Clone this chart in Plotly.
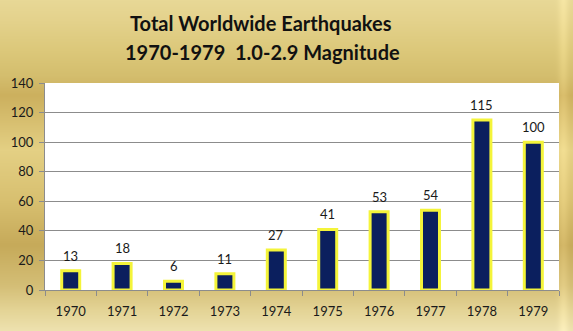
import base64, struct, zlib
import numpy as np
import plotly.graph_objects as go

# ---- data ----
years = ["1970", "1971", "1972", "1973", "1974", "1975", "1976", "1977", "1978", "1979"]
counts = [13, 18, 6, 11, 27, 41, 53, 54, 115, 100]
y_ticks = [0, 20, 40, 60, 80, 100, 120, 140]
title_line1 = "Total Worldwide Earthquakes"
title_line2 = "1970-1979  1.0-2.9 Magnitude"

W, H = 573, 331
L, R, T, B = 45, 14, 83, 41
pw, ph = W - L - R, H - T - B

# ---- gold gradient background (PNG built in memory) ----
def gold_png():
    ys = np.arange(H)
    ky = [0, 20, 50, 75, 95, 150, 200, 245, 285, 310, 331]
    kr = [232, 228, 220, 212, 204, 228, 216, 198, 212, 228, 238]
    kg = [216, 210, 200, 190, 176, 208, 192, 170, 190, 212, 226]
    kb = [150, 140, 122, 110, 94, 132, 112, 90, 118, 150, 176]
    col = np.stack([np.interp(ys, ky, k) for k in (kr, kg, kb)], axis=1)
    img = np.repeat(col[:, None, :], W, axis=1)
    xs = np.arange(W)
    streak = 14 * np.exp(-((xs - 563) / 5.0) ** 2)
    img = img + streak[None, :, None]
    img = np.clip(img, 0, 255).astype(np.uint8)
    img[T:H - B + 1, L:W - R] = 255  # white plot area
    raw = b"".join(b"\x00" + img[i].tobytes() for i in range(H))
    def chunk(tag, data):
        c = struct.pack(">I", len(data)) + tag + data
        return c + struct.pack(">I", zlib.crc32(tag + data) & 0xFFFFFFFF)
    png = b"\x89PNG\r\n\x1a\n" + chunk(b"IHDR", struct.pack(">IIBBBBB", W, H, 8, 2, 0, 0, 0))
    png += chunk(b"IDAT", zlib.compress(raw, 9)) + chunk(b"IEND", b"")
    return "data:image/png;base64," + base64.b64encode(png).decode()

font_family = "Lato, 'Open Sans', sans-serif"

fig = go.Figure(
    go.Bar(
        x=years,
        y=counts,
        width=0.35,
        marker=dict(color="#0b1f5e", line=dict(color="#f4f43a", width=3)),
        cliponaxis=False,
    )
)

def ypaper(pix):
    return (H - B - pix) / ph

# value labels placed at each category index on the category axis
value_labels = [
    dict(x=i, y=v, text=str(v), xref="x", yref="y", showarrow=False,
         xanchor="center", yanchor="bottom", yshift=5,
         font=dict(family=font_family, size=13, color="#1a1a1a"))
    for i, v in enumerate(counts)
]

fig.update_layout(
    width=W,
    height=H,
    margin=dict(l=L, r=R, t=T, b=B),
    paper_bgcolor="#e0cc88",
    plot_bgcolor="white",
    showlegend=False,
    images=[dict(source=gold_png(), xref="paper", yref="paper",
                 x=-L / pw, y=1 + T / ph, sizex=W / pw, sizey=H / ph,
                 xanchor="left", yanchor="top", sizing="stretch", layer="below")],
    annotations=[
        dict(text="<b>" + title_line1 + "</b>", xref="paper", yref="paper",
             x=(261 - L) / pw, y=ypaper(23), showarrow=False, xanchor="center", yanchor="middle",
             font=dict(family=font_family, size=20, color="#111111")),
        dict(text="<b>" + title_line2 + "</b>", xref="paper", yref="paper",
             x=(262 - L) / pw, y=ypaper(52), showarrow=False, xanchor="center", yanchor="middle",
             font=dict(family=font_family, size=20, color="#111111")),
    ] + value_labels,
)
fig.update_xaxes(
    type="category",
    categoryorder="array", categoryarray=years,
    showline=True, linecolor="#8c8c8c", linewidth=1,
    ticks="outside", tickson="boundaries", ticklen=5, tickcolor="#8c8c8c",
    tickfont=dict(family=font_family, size=13, color="#1a1a1a"),
    ticklabelstandoff=9,
    showgrid=False,
)
fig.update_yaxes(
    range=[0, 140], tickvals=y_ticks,
    showgrid=True, gridcolor="#8c8c8c", gridwidth=1,
    ticks="outside", ticklen=5, tickcolor="#8c8c8c",
    showline=True, linecolor="#8c8c8c",
    tickfont=dict(family=font_family, size=13, color="#1a1a1a"),
    ticklabelstandoff=3,
    zeroline=False,
)
fig.write_html("out.html")
